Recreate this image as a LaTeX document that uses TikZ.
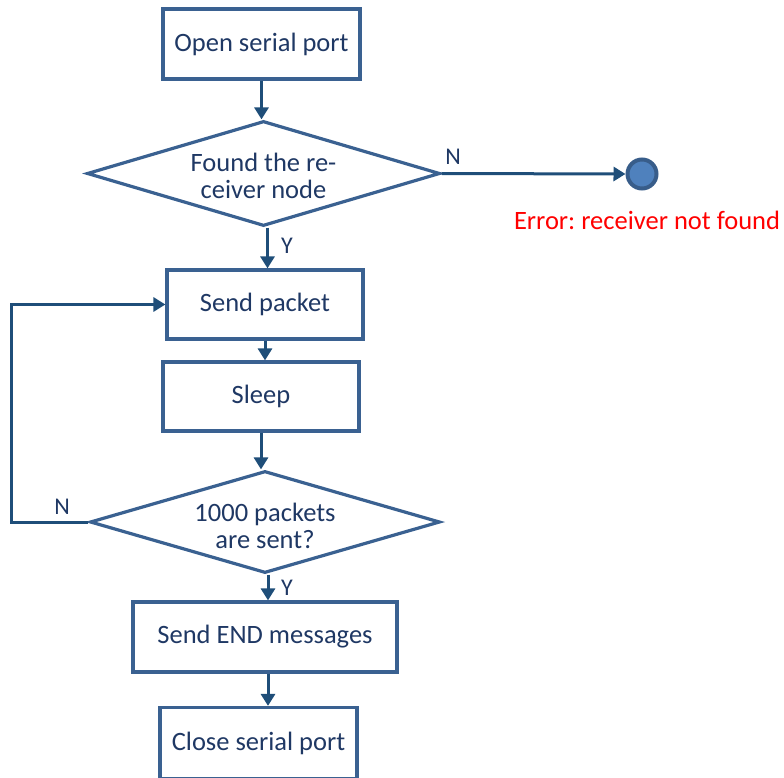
\documentclass[tikz,border=0pt]{standalone}
\usepackage{fontspec}
\setmainfont{Carlito}
\frenchspacing
\usetikzlibrary{shapes.geometric,arrows.meta,calc}
\definecolor{boxline}{HTML}{3A6191}
\definecolor{arrline}{HTML}{1F4E79}
\definecolor{txt}{HTML}{1F3864}
\definecolor{dotfill}{HTML}{4F81BD}
\definecolor{dotline}{HTML}{385D8A}
\newcommand{\lowr}[1]{\raisebox{-2.5pt}{#1}}
\tikzset{
  stepbox/.style={draw=boxline,line width=3.2pt,rectangle,inner sep=0pt,text=txt,font=\fontsize{26.5}{27}\selectfont,align=center},
  decision/.style={draw=boxline,line width=3.2pt,diamond,inner sep=0pt},
  dtext/.style={text=txt,font=\fontsize{26.5}{26.5}\selectfont,align=center,inner sep=0pt},
  arr/.style={draw=arrline,line width=3pt,-{Triangle[width=14pt,length=12pt]}},
  lbl/.style={text=txt,font=\fontsize{24}{24}\selectfont,inner sep=0pt}
}
\begin{document}
\begin{tikzpicture}[x=1pt,y=-1pt]
\useasboundingbox (0,0) rectangle (784,778);
\node[stepbox,minimum width=197pt,minimum height=70pt] (open) at (261.5,44) {\lowr{Open serial port}};
\node[decision,minimum width=353pt,minimum height=105pt] (found) at (263.5,173.5) {};
\node[dtext] (foundtxt) at (263.5,176) {Found the re-\\ceiver node};
\node[circle,draw=dotline,fill=dotfill,line width=4pt,minimum size=29pt,inner sep=0pt] (err) at (642,174) {};
\node[text=red,font=\fontsize{26.5}{27}\selectfont,inner sep=0pt] (errtxt) at (647,220) {Error: receiver not found};
\node[stepbox,minimum width=196pt,minimum height=69pt] (send) at (265,304.5) {\lowr{Send packet}};
\node[stepbox,minimum width=196pt,minimum height=69pt] (sleep) at (261,396.5) {\lowr{Sleep}};
\node[decision,minimum width=350pt,minimum height=102pt] (done) at (265,522) {};
\node[dtext] (donetxt) at (265,526) {1000 packets\\are sent?};
\node[stepbox,minimum width=264pt,minimum height=70pt] (endmsg) at (265,637) {\lowr{Send END messages}};
\node[stepbox,minimum width=197pt,minimum height=71pt] (close) at (258.5,743) {\lowr{Close serial port}};
\node[lbl] (n1) at (453,157) {N};
\node[lbl] (y1) at (287,246) {Y};
\node[lbl] (n2) at (62,507) {N};
\node[lbl] (y2) at (287,588) {Y};
\coordinate (loop) at (11,522);
\draw[arr] (open.south) -- (open.south |- found.north);
\draw[arr] (found.east) -- (err.west);
\draw[arr] ([xshift=4pt]found.south) -- ([xshift=4pt]found.south |- send.north);
\draw[arr] (send.south) -- (send.south |- sleep.north);
\draw[arr] (sleep.south) -- (sleep.south |- done.north);
\draw[arr] (done.west) -- (loop) |- (send.west);
\draw[arr] ([xshift=3pt]done.south) -- ([xshift=3pt]done.south |- endmsg.north);
\draw[arr] ([xshift=3pt]endmsg.south) -- ([xshift=3pt]endmsg.south |- close.north);
\end{tikzpicture}
\end{document}
